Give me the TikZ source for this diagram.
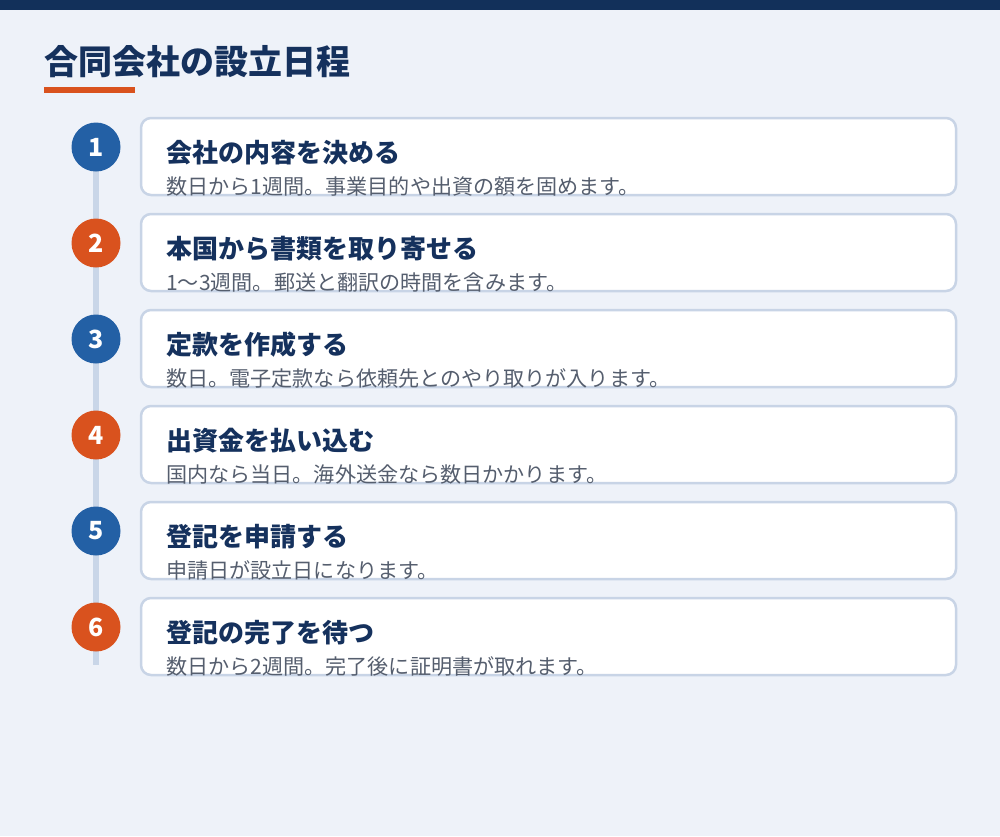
\documentclass[tikz,border=0pt]{standalone}
\usepackage{fontspec}
\setmainfont{Noto Sans CJK JP}
\usepackage{tikz}

\definecolor{barnavy}{HTML}{12305A}
\definecolor{titlenavy}{HTML}{15315D}
\definecolor{bgpale}{HTML}{EEF2F9}
\definecolor{accent}{HTML}{D9521E}
\definecolor{dotblue}{HTML}{2360A5}
\definecolor{rail}{HTML}{C9D6E8}
\definecolor{cardline}{HTML}{C8D4E6}
\definecolor{descgray}{HTML}{555E6E}

\begin{document}
\begin{tikzpicture}[x=1pt,y=-1pt]
            \tikzstyle{rail}=[draw=rail,line width=6pt]
            \tikzstyle{stepdot}=[circle,fill=dotblue,minimum size=49pt,inner sep=0pt,text=white,font=\fontsize{25}{30}\selectfont\bfseries]
            \tikzstyle{blue}=[fill=dotblue]
            \tikzstyle{orange}=[fill=accent]
            \tikzstyle{card}=[draw=cardline,line width=2.5pt,fill=white,rounded corners=10pt,minimum width=815pt,minimum height=77pt,inner sep=0pt]
            \tikzstyle{cardtitle}=[anchor=base west,inner sep=0pt,text=titlenavy,font=\fontsize{26}{31}\selectfont\bfseries]
            \tikzstyle{carddesc}=[anchor=base west,inner sep=0pt,text=descgray,font=\fontsize{21.1}{25}\selectfont]

            \def\dx{96}
            \def\cx{548.5}
            \def\tx{166}

            % page
            \useasboundingbox (0,0) rectangle (1000,836);
            \fill[bgpale] (0,0) rectangle (1000,836);
            \fill[barnavy] (0,0) rectangle (1000,10);

            \node[anchor=base west,inner sep=0pt,text=titlenavy,font=\fontsize{34}{40}\selectfont\bfseries] (head) at (44,74) {合同会社の設立日程};
            \fill[accent] (44,87) rectangle (135,93);

            % timeline
            \coordinate (railtop) at (\dx,147);
            \coordinate (railend) at (\dx,665);
            \path[rail] (railtop) -- (railend);

            \node[card] (card1) at (\cx,156.5) {};
            \node[card] (card2) at (\cx,252.5) {};
            \node[card] (card3) at (\cx,348.5) {};
            \node[card] (card4) at (\cx,444.5) {};
            \node[card] (card5) at (\cx,540.5) {};
            \node[card] (card6) at (\cx,636.5) {};

            \node[stepdot,blue]   (s1) at (\dx,147) {1};
            \node[stepdot,orange] (s2) at (\dx,243) {2};
            \node[stepdot,blue]   (s3) at (\dx,339) {3};
            \node[stepdot,orange] (s4) at (\dx,435) {4};
            \node[stepdot,blue]   (s5) at (\dx,531) {5};
            \node[stepdot,orange] (s6) at (\dx,627) {6};

            \node[cardtitle] (t1) at (\tx,162) {会社の内容を決める};
            \node[cardtitle] (t2) at (\tx,258) {本国から書類を取り寄せる};
            \node[cardtitle] (t3) at (\tx,354) {定款を作成する};
            \node[cardtitle] (t4) at (\tx,450) {出資金を払い込む};
            \node[cardtitle] (t5) at (\tx,546) {登記を申請する};
            \node[cardtitle] (t6) at (\tx,642) {登記の完了を待つ};

            \node[carddesc] (d1) at (\tx,194) {数日から1週間。事業目的や出資の額を固めます。};
            \node[carddesc] (d2) at (\tx,290) {1〜3週間。郵送と翻訳の時間を含みます。};
            \node[carddesc] (d3) at (\tx,386) {数日。電子定款なら依頼先とのやり取りが入ります。};
            \node[carddesc] (d4) at (\tx,482) {国内なら当日。海外送金なら数日かかります。};
            \node[carddesc] (d5) at (\tx,578) {申請日が設立日になります。};
            \node[carddesc] (d6) at (\tx,674) {数日から2週間。完了後に証明書が取れます。};
        \end{tikzpicture}
\end{document}
